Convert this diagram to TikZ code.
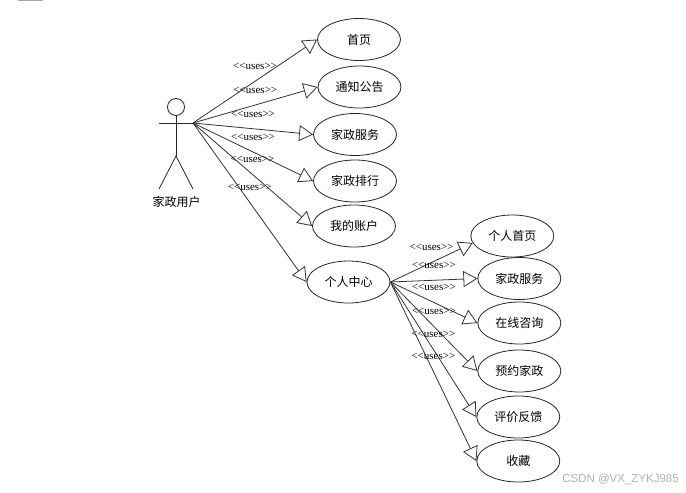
\documentclass[tikz,border=0pt]{standalone}
\usepackage{fontspec}
\setmainfont{Liberation Serif}
\newfontfamily\cjkfont{Noto Sans CJK SC}
\newfontfamily\marksans{Liberation Sans}
\usepackage{tikz}
\usetikzlibrary{arrows.meta}
\usetikzlibrary{positioning}
\usetikzlibrary{shapes.geometric}
\tikzset{
  usecase/.style={draw=black!85,line width=0.8pt,ellipse,inner sep=0pt,minimum width=83pt,minimum height=42pt,font=\cjkfont\fontsize{12}{14}\selectfont},
  link/.style={draw=black!80,line width=0.8pt,-{Triangle[open,length=14pt,width=16pt,line width=0.8pt]}},
  uses/.style={above=11pt,midway,inner sep=0pt,font=\fontsize{11}{12}\selectfont},
  limb/.style={draw=black!85,line width=0.8pt}
}
\newcommand{\usestext}{<{}<uses>{}>}

\begin{document}
\begin{tikzpicture}[x=1pt,y=1pt]
\useasboundingbox (0,0) rectangle (686,-493);
\fill[black!35] (18,0) rectangle (43,-1);
% actor
\node (head) [draw=black!85,line width=0.8pt,circle,inner sep=0pt,minimum size=17pt] at (176,-107) {};
\coordinate (hip) at (176,-156);
\coordinate (handL) at (159,-123);
\coordinate (handR) at (193,-123);
\coordinate (footL) at (159,-189);
\coordinate (footR) at (193,-189);
\draw[limb] (head) -- (hip);
\draw[limb] (handL) -- (handR);
\draw[limb] (footL) -- (hip) -- (footR);
\node (user) [font=\cjkfont\fontsize{12}{14}\selectfont] at (176.5,-202) {家政用户};
% first column
\node (home) [usecase] at (359,-39.5) {首页};
\node (notice) [usecase,below=4.7pt of home,xshift=0.5pt] {通知公告};
\node (service) [usecase,below=4.7pt of notice,xshift=-4.5pt] {家政服务};
\node (rank) [usecase,below=3.7pt of service] {家政排行};
\node (account) [usecase,below=2.2pt of rank,xshift=-1pt] {我的账户};
\node (center) [usecase,below=13.2pt of account,xshift=-5.5pt] {个人中心};
% second column
\node (mypage) [usecase,right=80pt of center,yshift=46pt] {个人首页};
\node (service2) [usecase,below=-0.3pt of mypage,xshift=7pt] {家政服务};
\node (consult) [usecase,below=1.7pt of service2] {在线咨询};
\node (booking) [usecase,below=5.2pt of consult] {预约家政};
\node (feedback) [usecase,below=3.2pt of booking,xshift=-1pt] {评价反馈};
\node (favorite) [usecase,below=1.2pt of feedback] {收藏};
% connectors
\draw[link] (handR) -- node[uses] {\usestext} (home.west);
\draw[link] (handR) -- node[uses] {\usestext} (notice.west);
\draw[link] (handR) -- node[uses] {\usestext} (service.west);
\draw[link] (handR) -- node[uses] {\usestext} (rank.west);
\draw[link] (handR) -- node[uses] {\usestext} (account.west);
\draw[link] (handR) -- node[uses] {\usestext} (center.west);
\draw[link] (center.east) -- node[uses] {\usestext} (mypage.190);
\draw[link] (center.east) -- node[uses] {\usestext} (service2.west);
\draw[link] (center.east) -- node[uses] {\usestext} (consult.west);
\draw[link] (center.east) -- node[uses] {\usestext} (booking.west);
\draw[link] (center.east) -- node[uses] {\usestext} (feedback.west);
\draw[link] (center.east) -- node[uses] {\usestext} (favorite.west);
\node (mark) [text=black!30,inner sep=0pt,font=\marksans\fontsize{11.5}{12}\selectfont] at (620.5,-479) {CSDN @VX\_ZYKJ985};
\end{tikzpicture}
\end{document}
